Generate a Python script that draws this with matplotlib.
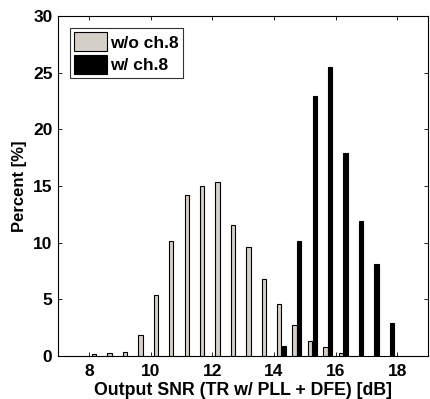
import matplotlib
matplotlib.use("Agg")
import matplotlib.pyplot as plt
import numpy as np

plt.rcParams['font.family'] = ['Liberation Sans', 'DejaVu Sans']
plt.rcParams['font.weight'] = 'bold'

# bin centers (dB)
bins_wo = [8.25, 8.75, 9.25, 9.75, 10.25, 10.75, 11.25, 11.75, 12.25, 12.75,
           13.25, 13.75, 14.25, 14.75, 15.25, 15.75, 16.25]
pct_wo = [0.15, 0.24, 0.38, 1.88, 5.35, 10.12, 14.2, 15.0, 15.35, 11.53,
          9.62, 6.76, 4.56, 2.74, 1.29, 0.79, 0.24]
bins_w = [14.25, 14.75, 15.25, 15.75, 16.25, 16.75, 17.25, 17.75]
pct_w = [0.91, 10.12, 22.9, 25.5, 17.9, 11.88, 8.15, 2.88]
labels = ['w/o ch.8', 'w/ ch.8']
xticks = [8, 10, 12, 14, 16, 18]
yticks = [0, 5, 10, 15, 20, 25, 30]

fig = plt.figure(figsize=(4.30, 3.99), dpi=100)
ax = fig.add_axes([58/430, 43/399, 370/430, 340/399])

w = 0.14
off = 0.075
ax.bar(np.array(bins_wo) - off, pct_wo, width=w, color='#d4d0c8',
       edgecolor='black', linewidth=0.8, label=labels[0])
ax.bar(np.array(bins_w) + off, pct_w, width=w, color='black',
       edgecolor='black', linewidth=0.8, label=labels[1])

ax.set_xlim(7, 19)
ax.set_ylim(0, 30)
ax.set_xticks(xticks)
ax.set_yticks(yticks)
ax.tick_params(direction='in', top=True, right=True, labelsize=12.5, length=3,
               width=0.6)
ax.tick_params(axis='x', pad=6)
ax.tick_params(axis='y', pad=4)
for s in ax.spines.values():
    s.set_linewidth(0.8)
ax.set_xlabel('Output SNR (TR w/ PLL + DFE) [dB]', fontsize=12.8, fontweight='bold',
              labelpad=2)
ax.set_ylabel('Percent [%]', fontsize=12, fontweight='bold', labelpad=4)

leg = ax.legend(loc='upper left', fontsize=12.5, frameon=True, fancybox=False,
                edgecolor='black', borderpad=0.25, handlelength=1.85,
                handleheight=1.25, handletextpad=0.2, labelspacing=0.25,
                borderaxespad=0.7)
leg.get_frame().set_linewidth(0.8)
for t in leg.get_texts():
    t.set_fontweight('bold')

fig.savefig('out.png', dpi=100)
